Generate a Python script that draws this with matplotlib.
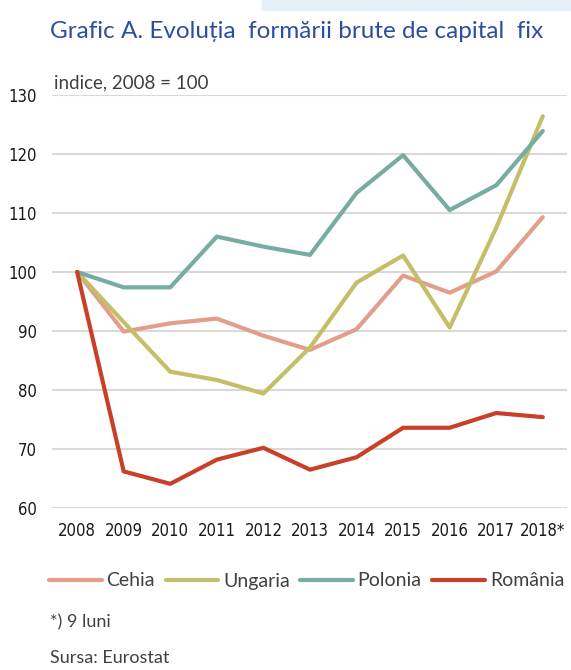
import matplotlib.pyplot as plt
from matplotlib.patches import Rectangle
from matplotlib import font_manager

years = ["2008", "2009", "2010", "2011", "2012", "2013", "2014", "2015", "2016", "2017", "2018*"]
cehia = [100, 89.9, 91.3, 92.1, 89.2, 86.8, 90.3, 99.4, 96.5, 100.1, 109.3]
ungaria = [100, 91.5, 83.1, 81.7, 79.4, 87.2, 98.2, 102.8, 90.6, 107.5, 126.4]
polonia = [100, 97.4, 97.4, 106.0, 104.3, 102.9, 113.4, 119.8, 110.5, 114.7, 123.9]
romania = [100, 66.2, 64.1, 68.2, 70.2, 66.5, 68.6, 73.6, 73.6, 76.1, 75.4]
y_ticks = [60, 70, 80, 90, 100, 110, 120, 130]

series = [
    ("Cehia", cehia, "#e39e8a"),
    ("Ungaria", ungaria, "#c3bf69"),
    ("Polonia", polonia, "#76aca2"),
    ("România", romania, "#c9402a"),
]

plain = ["Lato", "DejaVu Sans"]
tick_font = font_manager.FontProperties(family="DejaVu Sans", stretch="condensed", size=12)

fig = plt.figure(figsize=(5.71, 6.70), dpi=100)
ax = fig.add_axes([52 / 571, 1 - 508 / 670, 515 / 571, 413 / 670])

# light band at top right
fig.patches.append(Rectangle((262 / 571, 1 - 10 / 670), 1, 10 / 670,
                             transform=fig.transFigure, color="#e6eef8", zorder=0))

x = list(range(len(years)))
for name, vals, color in series:
    ax.plot(x, vals, color=color, linewidth=3, label=name, solid_capstyle="round", zorder=3)

ax.set_xlim(-0.54, 10.52)
ax.set_ylim(60, 130)
ax.set_yticks(y_ticks)
ax.set_xticks(x)
ax.set_xticklabels(years)
for s in ax.spines.values():
    s.set_visible(False)
ax.grid(axis="y", color="#d9d9d9", linewidth=1.5)
ax.set_axisbelow(True)
ax.tick_params(length=0)
ax.tick_params(axis="y", pad=11)
ax.tick_params(axis="x", pad=10)
for lab in ax.get_xticklabels() + ax.get_yticklabels():
    lab.set_fontproperties(tick_font)
    lab.set_color("#1a1a1a")

fig.text(50 / 571, 1 - 32 / 670, "Grafic A. Evoluția  formării brute de capital  fix",
         color="#2b4fa0", fontsize=17.5, family=plain, va="center", ha="left")
fig.text(54 / 571, 1 - 83 / 670, "indice, 2008 = 100",
         color="#404040", fontsize=13.5, family=plain, va="center", ha="left")

fig.legend(loc="center left", bbox_to_anchor=(49 / 571, 1 - 581 / 670), ncol=4,
           frameon=False, prop={"family": plain, "size": 14}, handlelength=2.7,
           handletextpad=0.25, columnspacing=0.55, borderpad=0, borderaxespad=0,
           labelcolor="#404040")

fig.text(50 / 571, 1 - 622 / 670, "*) 9 luni", color="#404040", fontsize=13,
         family=plain, va="center", ha="left")
fig.text(50 / 571, 1 - 658 / 670, "Sursa: Eurostat", color="#404040", fontsize=13,
         family=plain, va="center", ha="left")

fig.savefig("out.png", dpi=100)
